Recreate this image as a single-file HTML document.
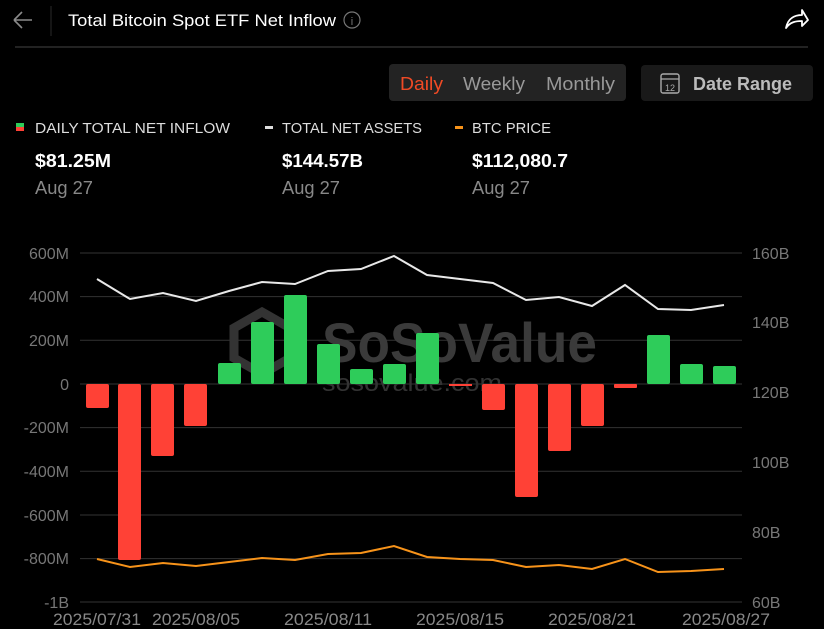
<!DOCTYPE html>
<html><head><meta charset="utf-8"><style>
html,body{margin:0;padding:0;background:#000;width:824px;height:629px;overflow:hidden}
svg{display:block;font-family:"Liberation Sans",sans-serif}
</style></head><body>
<svg width="824" height="629" viewBox="0 0 824 629" xmlns="http://www.w3.org/2000/svg">
<rect width="824" height="629" fill="#000"/>
<!-- header -->
<path d="M14 20 L22 12 M14 20 L22 28 M14 20 L32 20" stroke="#8a8a8a" stroke-width="1.6" fill="none"/>
<line x1="51" y1="6" x2="51" y2="36" stroke="#2a2a2a" stroke-width="1"/>
<text x="68" y="26" fill="#fff" font-size="17" textLength="268" lengthAdjust="spacingAndGlyphs">Total Bitcoin Spot ETF Net Inflow</text>
<circle cx="352" cy="20" r="8" stroke="#777" stroke-width="1.2" fill="none"/>
<text x="352" y="25" fill="#777" font-size="11" text-anchor="middle">i</text>
<path d="M786 28 C788 18 795 15 802 15 L802 10 L808 20 L802 26 L802 21 C796 21 790 22 786 28 Z" stroke="#fff" stroke-width="1.8" fill="none" stroke-linejoin="round"/>
<line x1="15" y1="47" x2="808" y2="47" stroke="#444" stroke-width="1"/>
<!-- toggles -->
<rect x="389" y="64" width="237" height="37" rx="4" fill="#232323"/>
<text x="400" y="90" fill="#f04a25" font-size="18" textLength="43" lengthAdjust="spacingAndGlyphs">Daily</text>
<text x="463" y="90" fill="#999" font-size="18" textLength="62" lengthAdjust="spacingAndGlyphs">Weekly</text>
<text x="546" y="90" fill="#999" font-size="18" textLength="69" lengthAdjust="spacingAndGlyphs">Monthly</text>
<rect x="641" y="65" width="172" height="36" rx="4" fill="#191919"/>
<rect x="661" y="74" width="18" height="19" rx="2" stroke="#aaa" stroke-width="1.4" fill="none"/>
<line x1="661" y1="79" x2="679" y2="79" stroke="#aaa" stroke-width="1.2"/>
<text x="670" y="91" fill="#aaa" font-size="9" text-anchor="middle">12</text>
<text x="693" y="90" fill="#bbb" font-size="18" font-weight="bold" textLength="99" lengthAdjust="spacingAndGlyphs">Date Range</text>
<!-- legend -->
<rect x="16" y="123" width="8" height="4" fill="#2ecc5a"/><rect x="16" y="127" width="8" height="4" fill="#ff4136"/>
<text x="35" y="133" fill="#ddd" font-size="15" textLength="195" lengthAdjust="spacingAndGlyphs">DAILY TOTAL NET INFLOW</text>
<rect x="265" y="126" width="8" height="3" fill="#ddd"/>
<text x="282" y="133" fill="#ddd" font-size="15" textLength="140" lengthAdjust="spacingAndGlyphs">TOTAL NET ASSETS</text>
<rect x="455" y="126" width="8" height="3" fill="#f7931a"/>
<text x="472" y="133" fill="#ddd" font-size="15" textLength="79" lengthAdjust="spacingAndGlyphs">BTC PRICE</text>
<text x="35" y="167" fill="#fff" font-size="18" font-weight="bold" textLength="76" lengthAdjust="spacingAndGlyphs">$81.25M</text>
<text x="282" y="167" fill="#fff" font-size="18" font-weight="bold" textLength="81" lengthAdjust="spacingAndGlyphs">$144.57B</text>
<text x="472" y="167" fill="#fff" font-size="18" font-weight="bold" textLength="96" lengthAdjust="spacingAndGlyphs">$112,080.7</text>
<text x="35" y="194" fill="#888" font-size="18" textLength="58" lengthAdjust="spacingAndGlyphs">Aug 27</text>
<text x="282" y="194" fill="#888" font-size="18" textLength="58" lengthAdjust="spacingAndGlyphs">Aug 27</text>
<text x="472" y="194" fill="#888" font-size="18" textLength="58" lengthAdjust="spacingAndGlyphs">Aug 27</text>
<!-- grid -->
<g stroke="#333" stroke-width="1">
<line x1="80" y1="253" x2="742" y2="253"/><line x1="80" y1="296.6" x2="742" y2="296.6"/>
<line x1="80" y1="340.3" x2="742" y2="340.3"/><line x1="80" y1="384" x2="742" y2="384"/>
<line x1="80" y1="427.6" x2="742" y2="427.6"/><line x1="80" y1="471.3" x2="742" y2="471.3"/>
<line x1="80" y1="515" x2="742" y2="515"/><line x1="80" y1="558.6" x2="742" y2="558.6"/>
<line x1="80" y1="602" x2="742" y2="602"/>
</g>
<g fill="#777" font-size="16" text-anchor="end">
<text x="69" y="259">600M</text><text x="69" y="302">400M</text><text x="69" y="346">200M</text>
<text x="69" y="390">0</text><text x="69" y="433">-200M</text><text x="69" y="477">-400M</text>
<text x="69" y="521">-600M</text><text x="69" y="564">-800M</text><text x="69" y="608">-1B</text>
</g>
<g fill="#777" font-size="16">
<text x="752" y="259">160B</text><text x="752" y="328">140B</text><text x="752" y="398">120B</text>
<text x="752" y="468">100B</text><text x="752" y="538">80B</text><text x="752" y="608">60B</text>
</g>
<!-- watermark -->
<g>
<polygon points="262,312 290,328 290,358 262,374 234,358 234,328" fill="none" stroke="#333" stroke-width="9"/>
<text x="322" y="362" fill="#3a3a3a" font-size="56" font-weight="bold" textLength="275" lengthAdjust="spacingAndGlyphs">SoSoValue</text>
<text x="322" y="391" fill="#333" font-size="24" textLength="180" lengthAdjust="spacingAndGlyphs">sosovalue.com</text>
</g>
<!-- bars -->
<g>
<rect x="86" y="384" width="23" height="24" rx="2" fill="#ff4136"/>
<rect x="118" y="384" width="23" height="176" rx="2" fill="#ff4136"/>
<rect x="151" y="384" width="23" height="72" rx="2" fill="#ff4136"/>
<rect x="184" y="384" width="23" height="42" rx="2" fill="#ff4136"/>
<rect x="218" y="363" width="23" height="21" rx="2" fill="#2ecc5a"/>
<rect x="251" y="322" width="23" height="62" rx="2" fill="#2ecc5a"/>
<rect x="284" y="295" width="23" height="89" rx="2" fill="#2ecc5a"/>
<rect x="317" y="344" width="23" height="40" rx="2" fill="#2ecc5a"/>
<rect x="350" y="369" width="23" height="15" rx="2" fill="#2ecc5a"/>
<rect x="383" y="364" width="23" height="20" rx="2" fill="#2ecc5a"/>
<rect x="416" y="333" width="23" height="51" rx="2" fill="#2ecc5a"/>
<rect x="449" y="384" width="23" height="2" fill="#ff4136"/>
<rect x="482" y="384" width="23" height="26" rx="2" fill="#ff4136"/>
<rect x="515" y="384" width="23" height="113" rx="2" fill="#ff4136"/>
<rect x="548" y="384" width="23" height="67" rx="2" fill="#ff4136"/>
<rect x="581" y="384" width="23" height="42" rx="2" fill="#ff4136"/>
<rect x="614" y="384" width="23" height="4" rx="1" fill="#ff4136"/>
<rect x="647" y="335" width="23" height="49" rx="2" fill="#2ecc5a"/>
<rect x="680" y="364" width="23" height="20" rx="2" fill="#2ecc5a"/>
<rect x="713" y="366" width="23" height="18" rx="2" fill="#2ecc5a"/>
</g>
<polyline fill="none" stroke="#e8e8e8" stroke-width="2" points="97,279 130,299 163,293 196,301 229,291 262,282 295,284 328,271 361,269 394,256 427,275 460,279 493,283 526,300 559,297 592,306 625,285 658,309 691,310 724,305"/>
<polyline fill="none" stroke="#f7931a" stroke-width="2" points="97,559 130,567 163,563 196,566 229,562 262,558 295,560 328,554 361,553 394,546 427,557 460,559 493,560 526,567 559,565 592,569 625,559 658,572 691,571 724,569"/>
<!-- x labels -->
<g fill="#888" font-size="17" text-anchor="middle">
<text x="97" y="625" textLength="88" lengthAdjust="spacingAndGlyphs">2025/07/31</text><text x="196" y="625" textLength="88" lengthAdjust="spacingAndGlyphs">2025/08/05</text>
<text x="328" y="625" textLength="88" lengthAdjust="spacingAndGlyphs">2025/08/11</text><text x="460" y="625" textLength="88" lengthAdjust="spacingAndGlyphs">2025/08/15</text>
<text x="592" y="625" textLength="88" lengthAdjust="spacingAndGlyphs">2025/08/21</text><text x="726" y="625" textLength="88" lengthAdjust="spacingAndGlyphs">2025/08/27</text>
</g>
</svg>
</body></html>
